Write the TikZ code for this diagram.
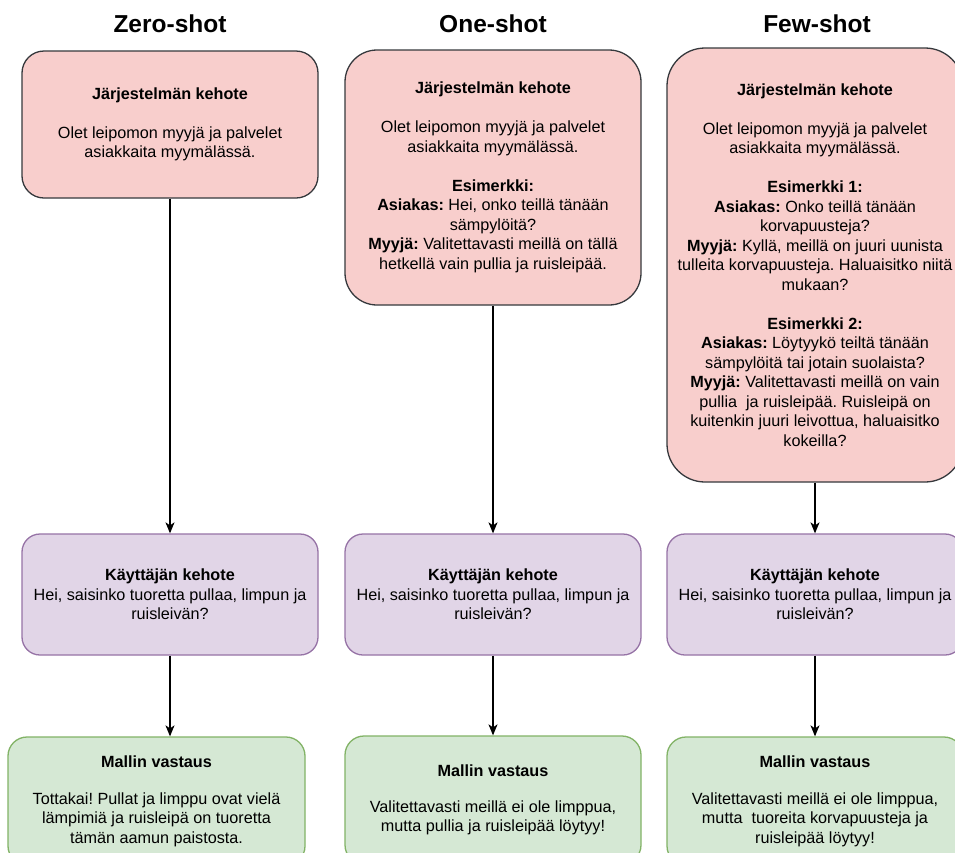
\documentclass[tikz,border=0pt]{standalone}
\usepackage{fontspec}
\setmainfont{Liberation Sans}
\usetikzlibrary{arrows.meta}
\definecolor{redfill}{HTML}{F8CECC}
\definecolor{redline}{HTML}{36393D}
\definecolor{purfill}{HTML}{E1D5E7}
\definecolor{purline}{HTML}{9673A6}
\definecolor{grnfill}{HTML}{D5E8D4}
\definecolor{grnline}{HTML}{82B366}
\frenchspacing
\tikzset{
  basebox/.style={draw, line width=1.3pt, inner sep=0pt, align=center,
    font=\fontsize{16.2}{19.5}\selectfont},
  sysbox/.style={basebox, fill=redfill, draw=redline, minimum width=296pt},
  userbox/.style={basebox, fill=purfill, draw=purline, minimum width=296pt,
    minimum height=121pt, rounded corners=18pt},
  ansbox/.style={basebox, fill=grnfill, draw=grnline, minimum width=296pt,
    minimum height=128pt, rounded corners=19pt},
  title/.style={font=\fontsize{24.5}{28}\selectfont\bfseries, anchor=base},
  conn/.style={line width=1.3pt, -{Stealth[length=11pt,width=9pt,inset=3pt]}}
}
\begin{document}
\begin{tikzpicture}[x=1pt,y=-1pt]
\useasboundingbox (0,0) rectangle (955,852);
\clip (0,0) rectangle (955,852);
\fill[white] (0,0) rectangle (955,852);

% titles
\node[title] (t1) at (170,32) {Zero-shot};
\node[title] (t2) at (493,32) {One-shot};
\node[title] (t3) at (817,32) {Few-shot};

% system prompts
\node[sysbox, minimum height=147pt, rounded corners=22pt] (s1) at (170,124.5)
 {\textbf{Järjestelmän kehote}\\[19.5pt]
  Olet leipomon myyjä ja palvelet\\
  asiakkaita myymälässä.};

\node[sysbox, minimum height=255pt, rounded corners=32pt] (s2) at (493,177.5)
 {\textbf{Järjestelmän kehote}\\[19.5pt]
  Olet leipomon myyjä ja palvelet\\
  asiakkaita myymälässä.\\[19.5pt]
  \textbf{Esimerkki:}\\
  \textbf{Asiakas:} Hei, onko teillä tänään\\
  sämpylöitä?\\
  \textbf{Myyjä:} Valitettavasti meillä on tällä\\
  hetkellä vain pullia ja ruisleipää.};

\node[sysbox, minimum height=434pt, rounded corners=38pt] (s3) at (815,265)
 {\textbf{Järjestelmän kehote}\\[19.5pt]
  Olet leipomon myyjä ja palvelet\\
  asiakkaita myymälässä.\\[19.5pt]
  \textbf{Esimerkki 1:}\\
  \textbf{Asiakas:} Onko teillä tänään\\
  korvapuusteja?\\
  \textbf{Myyjä:} Kyllä, meillä on juuri uunista\\
  tulleita korvapuusteja. Haluaisitko niitä\\
  mukaan?\\[19.5pt]
  \textbf{Esimerkki 2:}\\
  \textbf{Asiakas:} Löytyykö teiltä tänään\\
  sämpylöitä tai jotain suolaista?\\
  \textbf{Myyjä:} Valitettavasti meillä on vain\\
  pullia\ \ ja ruisleipää. Ruisleipä on\\
  kuitenkin juuri leivottua, haluaisitko\\
  kokeilla?};

% user prompts
\node[userbox] (u1) at (170,594.5)
 {\textbf{Käyttäjän kehote}\\
  Hei, saisinko tuoretta pullaa, limpun ja\\
  ruisleivän?};
\node[userbox] (u2) at (493,594.5)
 {\textbf{Käyttäjän kehote}\\
  Hei, saisinko tuoretta pullaa, limpun ja\\
  ruisleivän?};
\node[userbox] (u3) at (815,594.5)
 {\textbf{Käyttäjän kehote}\\
  Hei, saisinko tuoretta pullaa, limpun ja\\
  ruisleivän?};

% answers
\node[ansbox, minimum width=297pt] (a1) at (156.5,801)
 {\textbf{Mallin vastaus}\\[17.5pt]
  Tottakai! Pullat ja limppu ovat vielä\\
  lämpimiä ja ruisleipä on tuoretta\hspace*{17pt}\\
  tämän aamun paistosta.};
\node[ansbox] (a2) at (493,800)
 {\textbf{Mallin vastaus}\\[16pt]
  Valitettavasti meillä ei ole limppua,\\
  mutta pullia ja ruisleipää löytyy!};
\node[ansbox] (a3) at (815,801)
 {\textbf{Mallin vastaus}\\[17.5pt]
  Valitettavasti meillä ei ole limppua,\\
  mutta\ \ tuoreita korvapuusteja ja\\
  ruisleipää löytyy!};

% connectors
\draw[conn] (s1.south) -- (u1.north);
\draw[conn] (s2.south) -- (u2.north);
\draw[conn] (s3.south) -- (u3.north);
\coordinate (a1top) at (u1.south |- a1.north);
\draw[conn] (u1.south) -- (a1top);
\draw[conn] (u2.south) -- (a2.north);
\draw[conn] (u3.south) -- (a3.north);
\end{tikzpicture}
\end{document}
